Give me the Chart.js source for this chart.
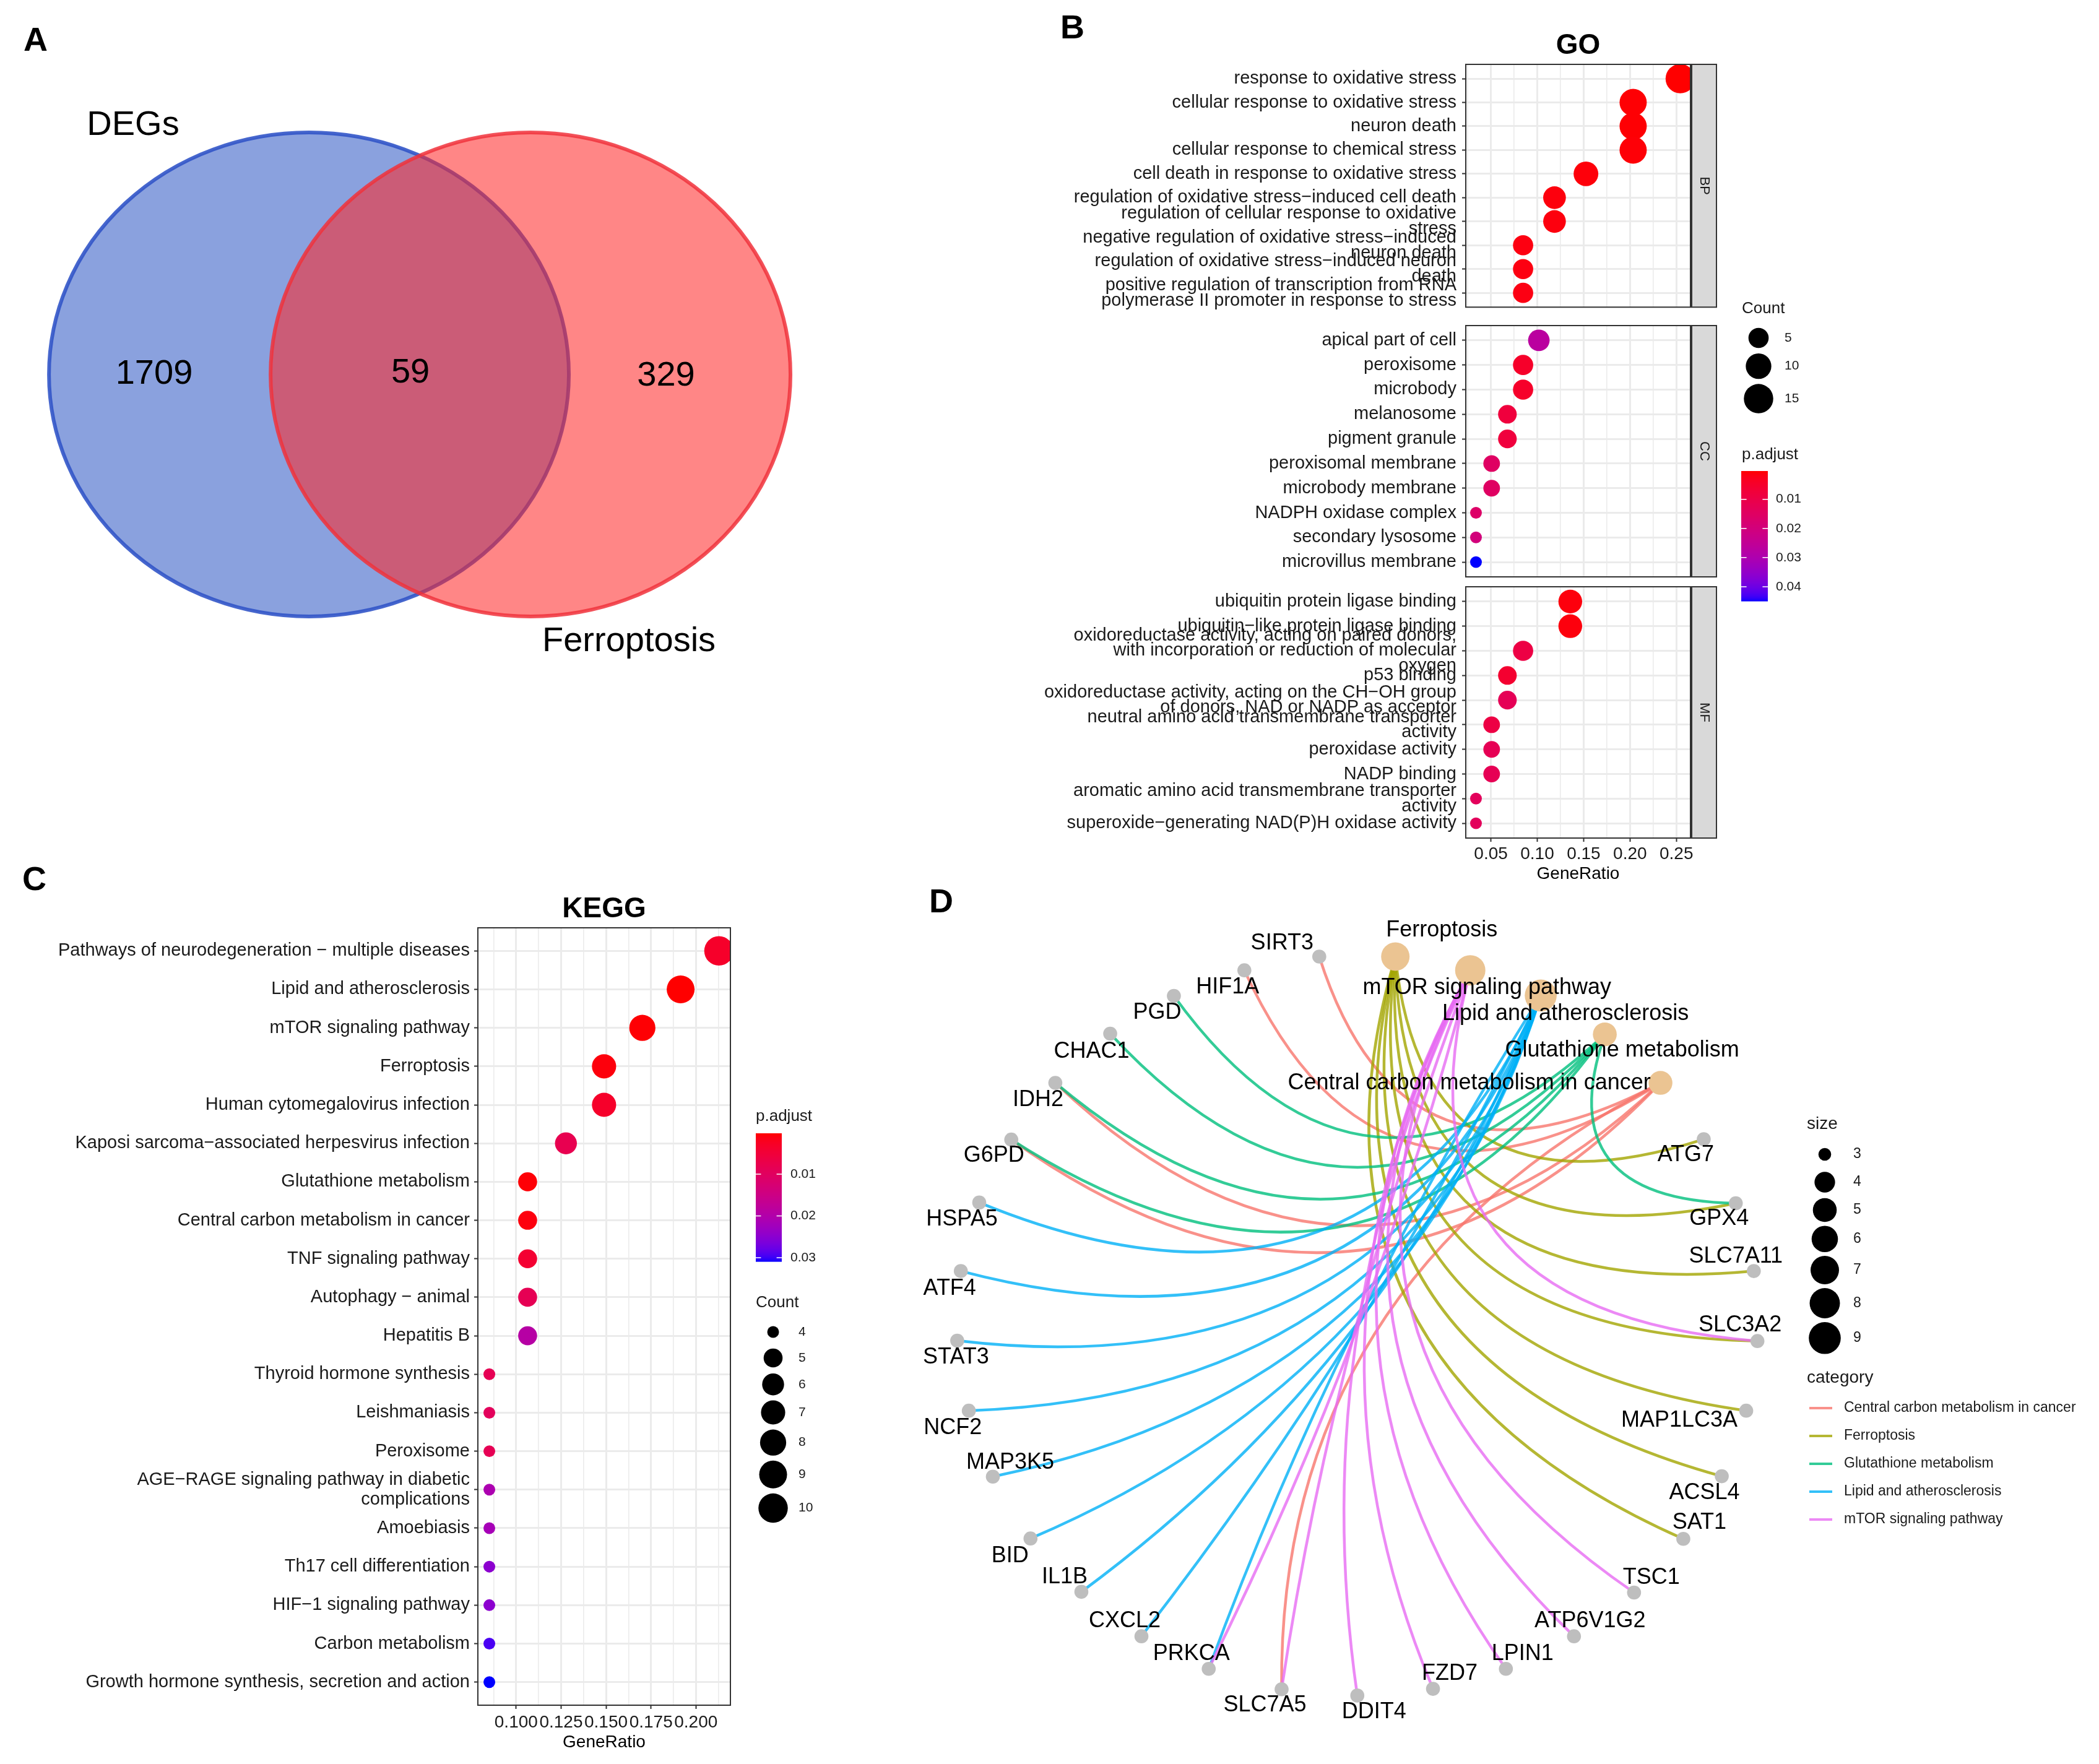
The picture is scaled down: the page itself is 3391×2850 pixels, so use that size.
<!DOCTYPE html>
<html>
<head>
<meta charset="utf-8">
<title>DEGs / ferroptosis enrichment</title>
<script src="https://cdn.jsdelivr.net/npm/chart.js@4.4.1/dist/chart.umd.min.js"></script>
<style>
  html, body { margin: 0; padding: 0; background: #ffffff; }
  body { position: relative; width: 3391px; height: 2850px; overflow: hidden; font-family: 'Liberation Sans', Arial, sans-serif; }
  canvas { position: absolute; }
  .tag { position: absolute; font-size: 54px; font-weight: bold; line-height: 1; color: #000; }
</style>
</head>
<body>
<div class="tag" style="left:38px;top:36px">A</div>
<div class="tag" style="left:1713px;top:16px">B</div>
<div class="tag" style="left:36px;top:1392px">C</div>
<div class="tag" style="left:1501px;top:1428px">D</div>

<canvas id="venn" width="1320" height="1100" style="left:0px;top:0px"></canvas>
<canvas id="goBP" width="1150" height="480" style="left:1640px;top:40px"></canvas>
<canvas id="goCC" width="1350" height="520" style="left:1640px;top:470px"></canvas>
<canvas id="goMF" width="1150" height="550" style="left:1640px;top:900px"></canvas>
<canvas id="kegg" width="1400" height="1420" style="left:0px;top:1430px"></canvas>
<canvas id="cnet" width="1911" height="1420" style="left:1480px;top:1430px"></canvas>

<script>
// ---------- data ----------

// A: Venn
const vennSets = ['DEGs', 'Ferroptosis'];
const vennCounts = [1709, 59, 329];   // DEGs only, shared, Ferroptosis only

// B: GO dotplot (BP / CC / MF)
const bpTerms = [
  'response to oxidative stress',
  'cellular response to oxidative stress',
  'neuron death',
  'cellular response to chemical stress',
  'cell death in response to oxidative stress',
  'regulation of oxidative stress−induced cell death',
  'regulation of cellular response to oxidative\nstress',
  'negative regulation of oxidative stress−induced\nneuron death',
  'regulation of oxidative stress−induced neuron\ndeath',
  'positive regulation of transcription from RNA\npolymerase II promoter in response to stress'
];
const bpRatio = [0.2542, 0.2034, 0.2034, 0.2034, 0.1525, 0.1186, 0.1186, 0.0847, 0.0847, 0.0847];
const bpCount = [15, 12, 12, 12, 9, 7, 7, 5, 5, 5];
const bpPadj = [0.0003, 0.0006, 0.0006, 0.0008, 0.0010, 0.0012, 0.0013, 0.0016, 0.0016, 0.0018];

const ccTerms = ['apical part of cell', 'peroxisome', 'microbody', 'melanosome', 'pigment granule',
  'peroxisomal membrane', 'microbody membrane', 'NADPH oxidase complex', 'secondary lysosome', 'microvillus membrane'];
const ccRatio = [0.1017, 0.0847, 0.0847, 0.0678, 0.0678, 0.0508, 0.0508, 0.0339, 0.0339, 0.0339];
const ccCount = [6, 5, 5, 4, 4, 3, 3, 2, 2, 2];
const ccPadj = [0.0270, 0.0048, 0.0048, 0.0079, 0.0079, 0.0150, 0.0150, 0.0160, 0.0200, 0.0449];

const mfTerms = [
  'ubiquitin protein ligase binding',
  'ubiquitin−like protein ligase binding',
  'oxidoreductase activity, acting on paired donors,\nwith incorporation or reduction of molecular\noxygen',
  'p53 binding',
  'oxidoreductase activity, acting on the CH−OH group\nof donors, NAD or NADP as acceptor',
  'neutral amino acid transmembrane transporter\nactivity',
  'peroxidase activity',
  'NADP binding',
  'aromatic amino acid transmembrane transporter\nactivity',
  'superoxide−generating NAD(P)H oxidase activity'
];
const mfRatio = [0.1356, 0.1356, 0.0847, 0.0678, 0.0678, 0.0508, 0.0508, 0.0508, 0.0339, 0.0339];
const mfCount = [8, 8, 5, 4, 4, 3, 3, 3, 2, 2];
const mfPadj = [0.0012, 0.0012, 0.0092, 0.0057, 0.0128, 0.0092, 0.0123, 0.0123, 0.0137, 0.0137];

const goTickValues = [0.05, 0.10, 0.15, 0.20, 0.25];
const goTickLabels = ['0.05', '0.10', '0.15', '0.20', '0.25'];
const goMinorTicks = [0.025, 0.075, 0.125, 0.175, 0.225];
const goCountBreaks = [5, 10, 15];
const goPadjBreaks = [0.01, 0.02, 0.03, 0.04];

// C: KEGG dotplot
const keggTerms = [
  'Pathways of neurodegeneration − multiple diseases',
  'Lipid and atherosclerosis',
  'mTOR signaling pathway',
  'Ferroptosis',
  'Human cytomegalovirus infection',
  'Kaposi sarcoma−associated herpesvirus infection',
  'Glutathione metabolism',
  'Central carbon metabolism in cancer',
  'TNF signaling pathway',
  'Autophagy − animal',
  'Hepatitis B',
  'Thyroid hormone synthesis',
  'Leishmaniasis',
  'Peroxisome',
  'AGE−RAGE signaling pathway in diabetic\ncomplications',
  'Amoebiasis',
  'Th17 cell differentiation',
  'HIF−1 signaling pathway',
  'Carbon metabolism',
  'Growth hormone synthesis, secretion and action'
];
const keggRatio = [0.2128, 0.1915, 0.1702, 0.1489, 0.1489, 0.1277, 0.1064, 0.1064, 0.1064, 0.1064,
  0.1064, 0.0851, 0.0851, 0.0851, 0.0851, 0.0851, 0.0851, 0.0851, 0.0851, 0.0851];
const keggCount = [10, 9, 8, 7, 7, 6, 5, 5, 5, 5, 5, 4, 4, 4, 4, 4, 4, 4, 4, 4];
const keggPadj = [0.0033, 0.0002, 0.0004, 0.0008, 0.0033, 0.0079, 0.0005, 0.0009, 0.0042, 0.0085,
  0.0192, 0.0085, 0.0094, 0.0085, 0.0208, 0.0217, 0.0248, 0.0248, 0.0294, 0.0309];
const keggTickValues = [0.100, 0.125, 0.150, 0.175, 0.200];
const keggTickLabels = ['0.100', '0.125', '0.150', '0.175', '0.200'];
const keggMinorTicks = [0.0875, 0.1125, 0.1375, 0.1625, 0.1875, 0.2125];
const keggCountBreaks = [4, 5, 6, 7, 8, 9, 10];
const keggPadjBreaks = [0.01, 0.02, 0.03];

// D: gene-concept network (circular layout, coordinates)
const cnetCategories = ['Central carbon metabolism in cancer', 'Ferroptosis', 'Glutathione metabolism',
  'Lipid and atherosclerosis', 'mTOR signaling pathway'];
const cnetCatSize = [5, 7, 5, 9, 8];
const cnetCatX = [0.757, 0.095, 0.618, 0.458, 0.282];
const cnetCatY = [0.654, 0.995, 0.785, 0.890, 0.958];
const cnetGenes = ['ATG7', 'GPX4', 'SLC7A11', 'SLC3A2', 'MAP1LC3A', 'ACSL4', 'SAT1', 'TSC1', 'ATP6V1G2',
  'LPIN1', 'FZD7', 'DDIT4', 'SLC7A5', 'PRKCA', 'CXCL2', 'IL1B', 'BID', 'MAP3K5', 'NCF2', 'STAT3',
  'ATF4', 'HSPA5', 'G6PD', 'IDH2', 'CHAC1', 'PGD', 'HIF1A', 'SIRT3'];
const cnetGeneX = [0.865, 0.945, 0.990, 0.999, 0.971, 0.910, 0.814, 0.691, 0.541, 0.371, 0.189, 0.000,
  -0.189, -0.371, -0.539, -0.689, -0.816, -0.910, -0.970, -0.999, -0.990, -0.944, -0.864, -0.754,
  -0.617, -0.458, -0.282, -0.095];
const cnetGeneY = [0.502, 0.329, 0.146, -0.043, -0.231, -0.408, -0.577, -0.722, -0.840, -0.928, -0.982,
  -1.000, -0.983, -0.928, -0.840, -0.720, -0.576, -0.409, -0.231, -0.042, 0.146, 0.331, 0.501, 0.654,
  0.787, 0.889, 0.958, 0.995];
const geneNodeSize = 3;
const linksCentral = ['SIRT3', 'HIF1A', 'IDH2', 'G6PD', 'SLC7A5'];
const linksFerro = ['ATG7', 'GPX4', 'SLC7A11', 'SLC3A2', 'MAP1LC3A', 'ACSL4', 'SAT1'];
const linksGlut = ['CHAC1', 'PGD', 'IDH2', 'G6PD', 'GPX4'];
const linksLipid = ['HSPA5', 'ATF4', 'STAT3', 'NCF2', 'MAP3K5', 'BID', 'IL1B', 'CXCL2', 'PRKCA'];
const linksMTOR = ['SLC3A2', 'TSC1', 'ATP6V1G2', 'LPIN1', 'FZD7', 'DDIT4', 'SLC7A5', 'PRKCA'];
const cnetLinks = [linksCentral, linksFerro, linksGlut, linksLipid, linksMTOR];
const cnetSizeBreaks = [3, 4, 5, 6, 7, 8, 9];

// ---------- styles / layout ----------
const FONT = "'Liberation Sans', Arial, Helvetica, sans-serif";
const font = (px, bold) => (bold ? 'bold ' : '') + px + 'px ' + FONT;
Chart.defaults.font.family = FONT;
Chart.defaults.color = '#1a1a1a';

const catColors = ['#F8766D', '#A3A500', '#00BF7D', '#00B0F6', '#E76BF3'];
const geneLabelNudge = {
  ATG7: [-29, 26], GPX4: [-27, 25], SLC7A11: [-29, -24], SLC3A2: [-28, -26], MAP1LC3A: [-108, 16],
  ACSL4: [-28, 27], SAT1: [26, -26], TSC1: [28, -24], ATP6V1G2: [26, -25], LPIN1: [27, -24],
  FZD7: [27, -25], DDIT4: [27, 27], SLC7A5: [-27, 26], PRKCA: [-28, -24], CXCL2: [-27, -25],
  IL1B: [-27, -24], BID: [-33, 28], MAP3K5: [28, -23], NCF2: [-26, 28], STAT3: [-2, 27],
  ATF4: [-18, 28], HSPA5: [-28, 27], G6PD: [-28, 26], IDH2: [-28, 27], CHAC1: [-30, 29],
  PGD: [-27, 27], HIF1A: [-27, 27], SIRT3: [-60, -21]
};
const catLabelNudge = [[-309, 0], [75, -42], [28, 26], [40, 30], [27, 28]];

// ggplot-like red -> blue gradient interpolated in CIELAB
function lin(c) { c /= 255; return c <= 0.04045 ? c / 12.92 : Math.pow((c + 0.055) / 1.055, 2.4); }
function gam(c) { c = Math.min(1, Math.max(0, c)); return Math.round(255 * (c <= 0.0031308 ? 12.92 * c : 1.055 * Math.pow(c, 1 / 2.4) - 0.055)); }
function toLab(rgb) {
  const [r, g, b] = rgb.map(lin);
  const X = (0.4124 * r + 0.3576 * g + 0.1805 * b) / 0.95047;
  const Y = 0.2126 * r + 0.7152 * g + 0.0722 * b;
  const Z = (0.0193 * r + 0.1192 * g + 0.9505 * b) / 1.08883;
  const f = t => t > 0.008856 ? Math.cbrt(t) : 7.787 * t + 16 / 116;
  return [116 * f(Y) - 16, 500 * (f(X) - f(Y)), 200 * (f(Y) - f(Z))];
}
function fromLab(lab) {
  const fy = (lab[0] + 16) / 116, fx = fy + lab[1] / 500, fz = fy - lab[2] / 200;
  const inv = t => t * t * t > 0.008856 ? t * t * t : (t - 16 / 116) / 7.787;
  const X = 0.95047 * inv(fx), Y = inv(fy), Z = 1.08883 * inv(fz);
  return [gam(3.2406 * X - 1.5372 * Y - 0.4986 * Z), gam(-0.9689 * X + 1.8758 * Y + 0.0415 * Z), gam(0.0557 * X - 0.2040 * Y + 1.0570 * Z)];
}
const LAB_LOW = toLab([255, 0, 0]), LAB_HIGH = toLab([0, 0, 255]);
function padjColor(p, pmin, pmax) {
  const t = Math.min(1, Math.max(0, (p - pmin) / (pmax - pmin)));
  const c = fromLab(LAB_LOW.map((v, i) => v + (LAB_HIGH[i] - v) * t));
  return 'rgb(' + c.join(',') + ')';
}
// size scale (area style, range 3..8) -> pixel diameter
function dotDiameter(v, vmin, vmax, k) {
  const s = 3 + 5 * Math.sqrt(Math.max(0, (v - vmin) / (vmax - vmin)));
  return (k || 5.7) * (s + 0.33);
}
function expand(vals) {
  const lo = Math.min(...vals), hi = Math.max(...vals), pad = (hi - lo) * 0.05;
  return [lo - pad, hi + pad];
}

// ---------- shared legend helpers ----------
function drawSizeLegend(ctx, o) {
  ctx.save();
  ctx.textAlign = 'left'; ctx.textBaseline = 'middle';
  ctx.fillStyle = '#1a1a1a'; ctx.font = o.titleFont;
  ctx.fillText(o.title, o.x, o.titleY);
  let y = o.firstY, prevH = 0;
  o.breaks.forEach((b, i) => {
    const d = o.diam(b);
    const h = Math.max(o.minKey, d + o.extra);
    if (i > 0) y += (prevH + h) / 2;
    prevH = h;
    ctx.beginPath(); ctx.arc(o.dotX, y, d / 2, 0, Math.PI * 2);
    ctx.fillStyle = '#000000'; ctx.fill();
    ctx.fillStyle = '#1a1a1a'; ctx.font = o.labelFont;
    ctx.fillText(String(b), o.labelX, y);
  });
  ctx.restore();
}
function drawColorbar(ctx, o) {
  ctx.save();
  ctx.textAlign = 'left'; ctx.textBaseline = 'middle';
  ctx.fillStyle = '#1a1a1a'; ctx.font = o.titleFont;
  ctx.fillText(o.title, o.x, o.titleY);
  for (let k = 0; k < o.h; k++) {
    ctx.fillStyle = padjColor(o.pmin + (k + 0.5) / o.h * (o.pmax - o.pmin), o.pmin, o.pmax);
    ctx.fillRect(o.barX, o.barY + k, o.w, 1.6);
  }
  ctx.font = o.labelFont;
  o.breaks.forEach(b => {
    const y = o.barY + (b - o.pmin) / (o.pmax - o.pmin) * o.h;
    ctx.strokeStyle = '#ffffff'; ctx.lineWidth = 1.5;
    ctx.beginPath();
    ctx.moveTo(o.barX, y); ctx.lineTo(o.barX + o.w * 0.2, y);
    ctx.moveTo(o.barX + o.w * 0.8, y); ctx.lineTo(o.barX + o.w, y);
    ctx.stroke();
    ctx.fillStyle = '#1a1a1a';
    ctx.fillText(b.toFixed(2), o.labelX, y);
  });
  ctx.restore();
}

// ---------- plugins ----------
const framePlugin = {
  id: 'frame',
  afterDatasetsDraw(chart) {
    const { ctx, chartArea: a } = chart;
    ctx.save();
    ctx.strokeStyle = '#333333'; ctx.lineWidth = 2;
    ctx.strokeRect(a.left, a.top, a.right - a.left, a.bottom - a.top);
    ctx.restore();
  }
};
function stripPlugin(label) {
  return {
    id: 'strip',
    afterDraw(chart) {
      const { ctx, chartArea: a } = chart;
      const x0 = a.right + 2, w = 40;
      ctx.save();
      ctx.fillStyle = '#D9D9D9'; ctx.fillRect(x0, a.top, w, a.bottom - a.top);
      ctx.strokeStyle = '#333333'; ctx.lineWidth = 2; ctx.strokeRect(x0, a.top, w, a.bottom - a.top);
      ctx.translate(x0 + w / 2, (a.top + a.bottom) / 2); ctx.rotate(Math.PI / 2);
      ctx.fillStyle = '#1a1a1a'; ctx.font = font(22);
      ctx.textAlign = 'center'; ctx.textBaseline = 'middle';
      ctx.fillText(label, 0, 0);
      ctx.restore();
    }
  };
}
function textPlugin(id, text, fnt, dyTop, dyBottom) {
  return {
    id: id,
    afterDraw(chart) {
      const { ctx, chartArea: a } = chart;
      ctx.save();
      ctx.fillStyle = '#000000'; ctx.font = fnt;
      ctx.textAlign = 'center'; ctx.textBaseline = 'middle';
      const y = dyTop != null ? a.top - dyTop : a.bottom + dyBottom;
      ctx.fillText(text, (a.left + a.right) / 2, y);
      ctx.restore();
    }
  };
}

// ---------- dotplot factory ----------
function dotChart(id, o) {
  const n = o.terms.length;
  const near = (a, b) => Math.abs(a - b) < 1e-9;
  const isMajor = v => o.major.some(m => near(m, v));
  return new Chart(document.getElementById(id), {
    type: 'scatter',
    data: {
      datasets: [{
        data: o.ratio.map((r, i) => ({ x: r, y: i })),
        pointRadius: c => dotDiameter(o.count[c.dataIndex], o.cmin, o.cmax) / 2,
        pointBackgroundColor: c => padjColor(o.padj[c.dataIndex], o.pmin, o.pmax),
        pointBorderWidth: 0,
        clip: 0
      }]
    },
    options: {
      responsive: false, animation: false, events: [], devicePixelRatio: 1,
      layout: { padding: o.padding },
      plugins: { legend: { display: false }, tooltip: { enabled: false } },
      scales: {
        x: {
          type: 'linear', min: o.xmin, max: o.xmax,
          afterBuildTicks: s => { s.ticks = o.major.concat(o.minor).sort((a, b) => a - b).map(v => ({ value: v })); },
          afterFit: s => { s.height = o.xAxisHeight; },
          border: { display: false },
          grid: {
            color: '#EBEBEB',
            lineWidth: c => (c.tick && isMajor(c.tick.value)) ? 3 : 1.6,
            drawTicks: o.showX, tickLength: 6, tickWidth: 2,
            tickColor: c => (c.tick && isMajor(c.tick.value)) ? '#333333' : 'rgba(0,0,0,0)'
          },
          ticks: {
            display: o.showX, autoSkip: false, maxRotation: 0, minRotation: 0, padding: o.xPad,
            color: '#1a1a1a', font: { size: 28 },
            callback: v => { const k = o.major.findIndex(m => near(m, v)); return k >= 0 ? o.majorLabels[k] : ''; }
          }
        },
        y: {
          type: 'linear', min: -0.6, max: n - 0.4, reverse: true,
          afterBuildTicks: s => { s.ticks = o.terms.map((t, i) => ({ value: i })); },
          afterFit: s => { s.width = o.yAxisWidth; },
          border: { display: false },
          grid: { color: '#EBEBEB', lineWidth: 3, tickLength: 6, tickWidth: 2, tickColor: '#333333' },
          ticks: {
            autoSkip: false, padding: o.yPad, color: '#1a1a1a',
            font: { size: 29, lineHeight: o.lineHeight },
            callback: v => o.terms[Math.round(v)].split('\n')
          }
        }
      }
    },
    plugins: [framePlugin].concat(o.extraPlugins || [])
  });
}

// ---------- A: Venn ----------
const vennLayout = {
  cx: [-1, 1], cy: [0, 0], r: 2.346,
  fill: ['rgba(47,87,196,0.56)', 'rgba(255,40,40,0.56)'],
  stroke: ['rgba(50,85,200,0.9)', 'rgba(240,50,60,0.85)'],
  nameX: [-2.587, 1.888], nameY: [2.412, -2.592],
  countX: [-2.397, -0.084, 2.223], countY: [0, 0.012, -0.018]
};
new Chart(document.getElementById('venn'), {
  type: 'scatter',
  data: { datasets: [{ data: vennLayout.cx.map((x, i) => ({ x: x, y: vennLayout.cy[i] })), pointRadius: 0 }] },
  options: {
    responsive: false, animation: false, events: [], devicePixelRatio: 1,
    layout: { padding: 0 },
    plugins: { legend: { display: false }, tooltip: { enabled: false } },
    scales: {
      x: { type: 'linear', display: false, min: -3.788, max: 3.586 },
      y: { type: 'linear', display: false, min: -2.97, max: 3.63 }
    }
  },
  plugins: [{
    id: 'vennSets',
    beforeDatasetsDraw(chart) {
      const { ctx, scales: { x, y } } = chart;
      ctx.save();
      vennSets.forEach((name, i) => {
        const px = x.getPixelForValue(vennLayout.cx[i]), py = y.getPixelForValue(vennLayout.cy[i]);
        const rx = Math.abs(x.getPixelForValue(vennLayout.cx[i] + vennLayout.r) - px);
        const ry = Math.abs(y.getPixelForValue(vennLayout.cy[i] + vennLayout.r) - py);
        ctx.beginPath(); ctx.ellipse(px, py, rx, ry, 0, 0, Math.PI * 2);
        ctx.fillStyle = vennLayout.fill[i]; ctx.fill();
        ctx.lineWidth = 6; ctx.strokeStyle = vennLayout.stroke[i]; ctx.stroke();
      });
      ctx.restore();
    },
    afterDatasetsDraw(chart) {
      const { ctx, scales: { x, y } } = chart;
      ctx.save();
      ctx.fillStyle = '#000000'; ctx.font = font(56);
      ctx.textAlign = 'center'; ctx.textBaseline = 'middle';
      vennSets.forEach((name, i) => ctx.fillText(name, x.getPixelForValue(vennLayout.nameX[i]), y.getPixelForValue(vennLayout.nameY[i])));
      vennCounts.forEach((c, i) => ctx.fillText(String(c), x.getPixelForValue(vennLayout.countX[i]), y.getPixelForValue(vennLayout.countY[i])));
      ctx.restore();
    }
  }]
});

// ---------- B: GO ----------
const goAllRatio = bpRatio.concat(ccRatio, mfRatio);
const goAllCount = bpCount.concat(ccCount, mfCount);
const goAllPadj = bpPadj.concat(ccPadj, mfPadj);
const [goXmin, goXmax] = expand(goAllRatio);
const goCmin = Math.min(...goAllCount), goCmax = Math.max(...goAllCount);
const goPmin = Math.min(...goAllPadj), goPmax = Math.max(...goAllPadj);
const goBase = {
  xmin: goXmin, xmax: goXmax, major: goTickValues, majorLabels: goTickLabels, minor: goMinorTicks,
  cmin: goCmin, cmax: goCmax, pmin: goPmin, pmax: goPmax,
  yAxisWidth: 728, yPad: 9, lineHeight: 0.85
};

dotChart('goBP', Object.assign({}, goBase, {
  terms: bpTerms, ratio: bpRatio, count: bpCount, padj: bpPadj,
  padding: { left: 0, top: 64, right: 59, bottom: 11 }, xAxisHeight: 0, showX: false, xPad: 0,
  extraPlugins: [stripPlugin('BP'), textPlugin('goTitle', 'GO', font(46, true), 30, null)]
}));

dotChart('goCC', Object.assign({}, goBase, {
  terms: ccTerms, ratio: ccRatio, count: ccCount, padj: ccPadj,
  padding: { left: 0, top: 56, right: 259, bottom: 58 }, xAxisHeight: 0, showX: false, xPad: 0,
  extraPlugins: [stripPlugin('CC'), {
    id: 'goLegend',
    afterDraw(chart) {
      const ctx = chart.ctx, ox = 1640, oy = 470;
      drawSizeLegend(ctx, {
        title: 'Count', x: 2814 - ox, titleY: 499 - oy, dotX: 2841 - ox, firstY: 546 - oy, labelX: 2883 - ox,
        breaks: goCountBreaks, diam: v => dotDiameter(v, goCmin, goCmax), minKey: 42, extra: 8,
        titleFont: font(26), labelFont: font(21)
      });
      drawColorbar(ctx, {
        title: 'p.adjust', x: 2814 - ox, titleY: 735 - oy, barX: 2813 - ox, barY: 761 - oy, w: 43, h: 210,
        labelX: 2869 - ox, pmin: goPmin, pmax: goPmax, breaks: goPadjBreaks,
        titleFont: font(26), labelFont: font(21)
      });
    }
  }]
}));

dotChart('goMF', Object.assign({}, goBase, {
  terms: mfTerms, ratio: mfRatio, count: mfCount, padj: mfPadj,
  padding: { left: 0, top: 48, right: 59, bottom: 0 }, xAxisHeight: 96, showX: true, xPad: 3,
  extraPlugins: [stripPlugin('MF'), textPlugin('goX', 'GeneRatio', font(28), null, 58)]
}));

// ---------- C: KEGG ----------
const [keggXmin, keggXmax] = expand(keggRatio);
const keggCmin = Math.min(...keggCount), keggCmax = Math.max(...keggCount);
const keggPmin = Math.min(...keggPadj), keggPmax = Math.max(...keggPadj);
dotChart('kegg', {
  terms: keggTerms, ratio: keggRatio, count: keggCount, padj: keggPadj,
  xmin: keggXmin, xmax: keggXmax, major: keggTickValues, majorLabels: keggTickLabels, minor: keggMinorTicks,
  cmin: keggCmin, cmax: keggCmax, pmin: keggPmin, pmax: keggPmax,
  padding: { left: 0, top: 69, right: 220, bottom: 0 },
  yAxisWidth: 772, yPad: 7, lineHeight: 1.1, xAxisHeight: 95, showX: true, xPad: 5,
  extraPlugins: [
    textPlugin('keggTitle', 'KEGG', font(46, true), 30, null),
    textPlugin('keggX', 'GeneRatio', font(28), null, 60),
    {
      id: 'keggLegend',
      afterDraw(chart) {
        const ctx = chart.ctx, oy = 1430;
        drawColorbar(ctx, {
          title: 'p.adjust', x: 1221, titleY: 1804 - oy, barX: 1221, barY: 1831 - oy, w: 42, h: 207,
          labelX: 1277, pmin: keggPmin, pmax: keggPmax, breaks: keggPadjBreaks,
          titleFont: font(26), labelFont: font(21)
        });
        drawSizeLegend(ctx, {
          title: 'Count', x: 1221, titleY: 2105 - oy, dotX: 1249, firstY: 2152 - oy, labelX: 1290,
          breaks: keggCountBreaks, diam: v => dotDiameter(v, keggCmin, keggCmax), minKey: 42, extra: 8,
          titleFont: font(26), labelFont: font(21)
        });
      }
    }
  ]
});

// ---------- D: cnetplot ----------
const nodeDiam = v => dotDiameter(v, 3, 9, 6.2);
new Chart(document.getElementById('cnet'), {
  type: 'scatter',
  data: {
    datasets: [
      {
        data: cnetGeneX.map((x, i) => ({ x: x, y: cnetGeneY[i] })),
        pointRadius: nodeDiam(geneNodeSize) / 2 + 1, pointBackgroundColor: '#BEBEBE', pointBorderWidth: 0
      },
      {
        data: cnetCatX.map((x, i) => ({ x: x, y: cnetCatY[i] })),
        pointRadius: c => nodeDiam(cnetCatSize[c.dataIndex]) / 2, pointBackgroundColor: '#EBC492', pointBorderWidth: 0
      }
    ]
  },
  options: {
    responsive: false, animation: false, events: [], devicePixelRatio: 1,
    layout: { padding: 0 },
    plugins: { legend: { display: false }, tooltip: { enabled: false } },
    scales: {
      x: { type: 'linear', display: false, min: -1.0617, max: 1.812 },
      y: { type: 'linear', display: false, min: -1.1417, max: 1.1449 }
    }
  },
  plugins: [{
    id: 'edges',
    beforeDatasetsDraw(chart) {
      const { ctx, scales: { x, y } } = chart;
      const cx = x.getPixelForValue(0), cy = y.getPixelForValue(0);
      ctx.save();
      ctx.lineWidth = 4.5; ctx.lineCap = 'round'; ctx.globalAlpha = 0.8;
      cnetLinks.forEach((genes, ci) => {
        const x1 = x.getPixelForValue(cnetCatX[ci]), y1 = y.getPixelForValue(cnetCatY[ci]);
        const a1 = Math.atan2(cnetCatY[ci], cnetCatX[ci]);
        ctx.strokeStyle = catColors[ci];
        genes.forEach(g => {
          const gi = cnetGenes.indexOf(g);
          const x2 = x.getPixelForValue(cnetGeneX[gi]), y2 = y.getPixelForValue(cnetGeneY[gi]);
          // arcs bend inwards, deeper the further apart the two nodes sit on the circle
          let da = Math.abs(Math.atan2(cnetGeneY[gi], cnetGeneX[gi]) - a1);
          if (da > Math.PI) da = 2 * Math.PI - da;
          const depth = 2 * 1.08 * da / Math.PI;
          const mx = (x1 + x2) / 2, my = (y1 + y2) / 2;
          ctx.beginPath();
          ctx.moveTo(x1, y1);
          ctx.quadraticCurveTo(mx + depth * (cx - mx), my + depth * (cy - my), x2, y2);
          ctx.stroke();
        });
      });
      ctx.restore();
    },
    afterDatasetsDraw(chart) {
      const { ctx, scales: { x, y } } = chart;
      ctx.save();
      ctx.fillStyle = '#000000'; ctx.font = font(36);
      ctx.textAlign = 'center'; ctx.textBaseline = 'middle';
      cnetGenes.forEach((g, i) => {
        const nud = geneLabelNudge[g];
        ctx.fillText(g, x.getPixelForValue(cnetGeneX[i]) + nud[0], y.getPixelForValue(cnetGeneY[i]) + nud[1]);
      });
      cnetCategories.forEach((c, i) => {
        const nud = catLabelNudge[i];
        ctx.fillText(c, x.getPixelForValue(cnetCatX[i]) + nud[0], y.getPixelForValue(cnetCatY[i]) + nud[1]);
      });
      ctx.restore();
    },
    afterDraw(chart) {
      const ctx = chart.ctx, ox = 1480, oy = 1430;
      drawSizeLegend(ctx, {
        title: 'size', x: 2919 - ox, titleY: 1816 - oy, dotX: 2948 - ox, firstY: 1865 - oy, labelX: 2994 - ox,
        breaks: cnetSizeBreaks, diam: nodeDiam, minKey: 45, extra: 6,
        titleFont: font(28), labelFont: font(23)
      });
      ctx.save();
      ctx.textAlign = 'left'; ctx.textBaseline = 'middle';
      ctx.fillStyle = '#1a1a1a'; ctx.font = font(28);
      ctx.fillText('category', 2919 - ox, 2226 - oy);
      ctx.font = font(23); ctx.lineWidth = 4;
      cnetCategories.forEach((c, i) => {
        const yy = 2275 - oy + 45 * i;
        ctx.strokeStyle = catColors[i]; ctx.globalAlpha = 0.8;
        ctx.beginPath(); ctx.moveTo(2923 - ox, yy); ctx.lineTo(2960 - ox, yy); ctx.stroke();
        ctx.globalAlpha = 1; ctx.fillStyle = '#1a1a1a';
        ctx.fillText(c, 2979 - ox, yy);
      });
      ctx.restore();
    }
  }]
});
</script>
</body>
</html>
